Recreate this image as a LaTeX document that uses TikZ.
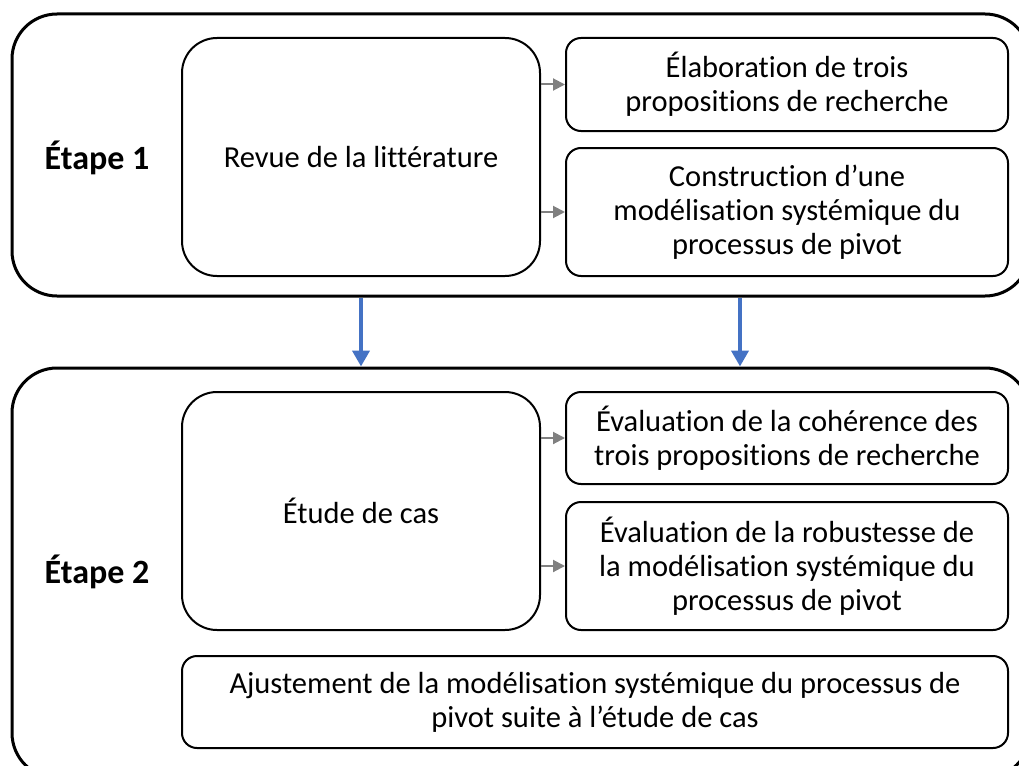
\documentclass[tikz,border=0pt]{standalone}
\usepackage{fontspec}
\setmainfont{Carlito}[Ligatures={NoCommon}]
\usetikzlibrary{arrows.meta,positioning}

\begin{document}
\begin{tikzpicture}[x=1pt,y=-1pt,font=\fontsize{30.5}{34}\selectfont,
  stage/.style={draw,line width=3pt,rounded corners=45pt,minimum width=1018pt,inner sep=0pt},
  bigbox/.style={draw,line width=2pt,rounded corners=35pt,minimum width=358pt,minimum height=238pt,align=center},
  smallbox/.style={draw,line width=2pt,rounded corners=15pt,minimum width=442pt,align=center,inner sep=0pt},
  greyarrow/.style={-{Triangle[length=12pt,width=12pt]},draw=gray,line width=2pt},
  bluearrow/.style={-{Triangle[length=16pt,width=17pt]},draw={rgb,255:red,68;green,114;blue,196},line width=4pt}]
\clip (0,0) rectangle (1019,765);
\useasboundingbox (0,0) rectangle (1019,765);
% stage 1
\node[stage,minimum height=282pt] (etape1) at (521,155) {};
\node[font=\fontsize{34}{40}\selectfont\bfseries] (lab1) at (97,158) {Étape 1};
\node[bigbox] (revue) at (361,157) {Revue de la littérature};
\node[smallbox,minimum height=93pt] (elab) at (787,84.5) {Élaboration de trois\\propositions de recherche};
\node[smallbox,minimum height=128pt] (constr) at (787,212) {Construction d’une\\modélisation systémique du\\processus de pivot};
% stage 2
\node[stage,minimum height=410pt] (etape2) at (521,573) {};
\node[font=\fontsize{34}{40}\selectfont\bfseries] (lab2) at (97,572) {Étape 2};
\node[bigbox] (etude) at (361,511) {Étude de cas};
\node[smallbox,minimum height=92pt] (eval1) at (787,438) {Évaluation de la cohérence des\\trois propositions de recherche};
\node[smallbox,minimum height=128pt] (eval2) at (787,566) {Évaluation de la robustesse de\\la modélisation systémique du\\processus de pivot};
\node[smallbox,minimum width=826pt,minimum height=92pt] (ajust) at (595,702) {Ajustement de la modélisation systémique du processus de\\pivot suite à l’étude de cas};
% arrows
\draw[greyarrow] (revue.east |- elab.west) -- (elab.west);
\draw[greyarrow] (revue.east |- constr.west) -- (constr.west);
\draw[greyarrow] (etude.east |- eval1.west) -- (eval1.west);
\draw[greyarrow] (etude.east |- eval2.west) -- (eval2.west);
\coordinate (b2) at (740,0);
\draw[bluearrow] (etape1.south -| revue) -- (etape2.north -| revue);
\draw[bluearrow] (etape1.south -| b2) -- (etape2.north -| b2);
\end{tikzpicture}
\end{document}
